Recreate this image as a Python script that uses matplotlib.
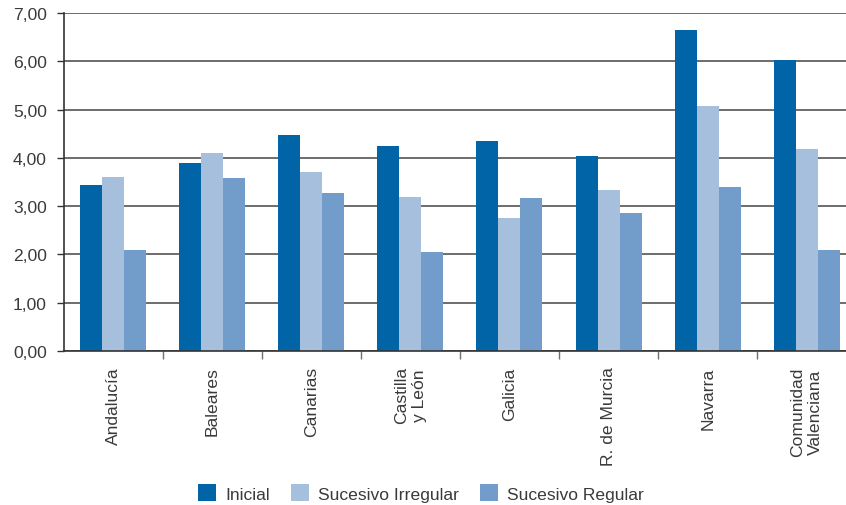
import matplotlib
matplotlib.use("Agg")
import matplotlib.pyplot as plt
from matplotlib.patches import Patch
import numpy as np

categories = ["Andalucía", "Baleares", "Canarias", "Castilla\ny León", "Galicia",
              "R. de Murcia", "Navarra", "Comunidad\nValenciana"]
series_names = ["Inicial", "Sucesivo Irregular", "Sucesivo Regular"]
inicial = [3.44, 3.90, 4.48, 4.25, 4.35, 4.04, 6.65, 6.03]
sucesivo_irregular = [3.61, 4.10, 3.71, 3.19, 2.76, 3.34, 5.08, 4.19]
sucesivo_regular = [2.09, 3.59, 3.27, 2.05, 3.17, 2.86, 3.40, 2.09]
y_ticks = [0, 1, 2, 3, 4, 5, 6, 7]
y_tick_labels = ["0,00", "1,00", "2,00", "3,00", "4,00", "5,00", "6,00", "7,00"]

colors = ["#0064A7", "#A6BFDD", "#729DCA"]
text_color = "#3a3a3a"
fs = 12.6

plt.rcParams['font.family'] = ['Liberation Sans', 'DejaVu Sans']

W, H = 846, 506
fig = plt.figure(figsize=(W / 100, H / 100), dpi=100)
left_px, right_px = 63.5, 63.5 + 8 * 99.1
top_px, bottom_px = 14, 352
ax = fig.add_axes([left_px / W, 1 - bottom_px / H, (right_px - left_px) / W, (bottom_px - top_px) / H])

x = np.arange(len(categories))
bw = 0.222
for i, (vals, c) in enumerate(zip([inicial, sucesivo_irregular, sucesivo_regular], colors)):
    ax.bar(x + (i - 1) * bw, vals, width=bw, color=c, zorder=3, linewidth=0)

ax.set_xlim(-0.5, len(categories) - 0.5)
ax.set_ylim(0, 7)
ax.set_yticks(y_ticks)
ax.set_yticklabels(y_tick_labels)
ax.yaxis.grid(True, color="#454545", linewidth=1.1, zorder=0)
ax.set_axisbelow(True)

ax.set_xticks(x)
ax.set_xticklabels(categories, rotation=90, va="top", ha="center", multialignment="center")
ax.tick_params(axis="x", length=0, pad=11, labelsize=fs, labelcolor=text_color)
ax.set_xticks(np.arange(len(categories)) + 0.5, minor=True)
ax.tick_params(axis="x", which="minor", length=6, width=1, color="#707070", direction="out")
ax.tick_params(axis="y", length=5, width=1, color="#333333", pad=7, labelsize=fs, labelcolor=text_color)

for s in ["top", "right"]:
    ax.spines[s].set_visible(False)
for s in ["left", "bottom"]:
    ax.spines[s].set_color("#333333")
    ax.spines[s].set_linewidth(1.2)
    ax.spines[s].set_zorder(4)

handles = [Patch(facecolor=c, edgecolor="none", label=n) for c, n in zip(colors, series_names)]
fig.legend(handles=handles, loc="center", bbox_to_anchor=(421 / W, 1 - 494 / H), ncol=3,
           frameon=False, fontsize=fs, handlelength=1.05, handleheight=1.05,
           handletextpad=0.5, columnspacing=1.2, labelcolor=text_color)

fig.savefig("out.png", dpi=100)
